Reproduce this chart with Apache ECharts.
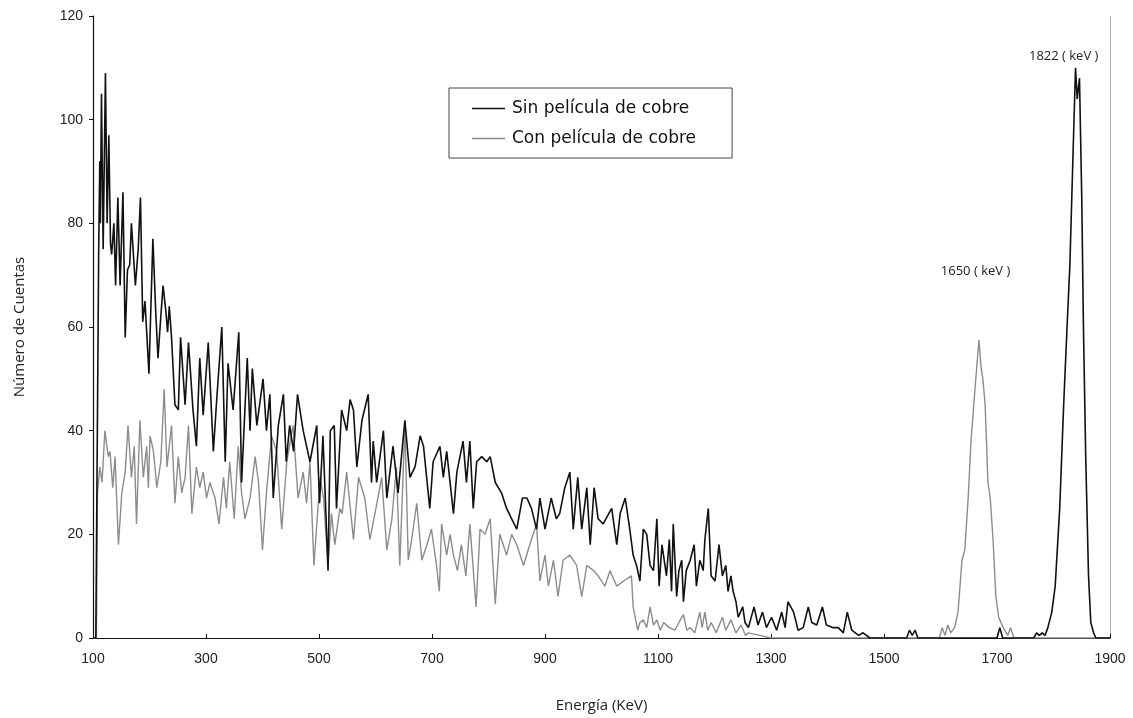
<!DOCTYPE html>
<html>
<head>
<meta charset="utf-8">
<script src="https://cdn.jsdelivr.net/npm/echarts@6/dist/echarts.min.js"></script>
<style>
html,body{margin:0;padding:0;background:#fff;}
#chart{width:1133px;height:718px;}
</style>
</head>
<body>
<div id="chart"></div>
<script>
// ---- Data ----
const seriesNames = ['Sin película de cobre', 'Con película de cobre'];

const sinEnergy = [100,105,108,110,112,113,115,118,122,125,128,131,133,137,140,144,148,153,157,161,165,168,175,180,184,188,192,199,206,211,215,220,224,229,232,235,239,245,251,255,263,269,277,283,289,295,304,313,319,328,334,339,348,358,363,373,378,382,390,401,407,413,419,428,437,442,448,455,462,472,484,496,501,507,516,520,527,531,540,549,555,561,567,576,587,593,596,602,614,620,631,640,652,661,670,679,685,696,702,714,720,726,738,744,755,761,767,773,779,788,797,803,812,823,832,841,850,860,868,876,885,891,900,911,920,926,935,944,950,958,965,974,980,987,994,1003,1018,1027,1033,1042,1050,1056,1062,1068,1074,1080,1086,1092,1098,1102,1107,1115,1120,1124,1127,1133,1137,1142,1145,1150,1157,1164,1168,1174,1180,1183,1189,1194,1201,1208,1214,1220,1224,1229,1233,1238,1242,1250,1254,1260,1270,1277,1285,1292,1301,1310,1319,1325,1330,1340,1348,1357,1366,1372,1381,1391,1398,1410,1419,1428,1435,1443,1455,1463,1475,1540,1545,1550,1555,1560,1700,1705,1710,1765,1770,1775,1780,1785,1790,1797,1803,1811,1818,1824,1829,1835,1839,1842,1846,1850,1853,1857,1862,1866,1871,1875,1900];
const sinCounts = [0,0,0,74,92,80,105,75,109,80,97,76,74,80,68,85,68,86,58,71,72,80,68,75,85,61,65,51,77,63,54,62,68,63,59,64,58,45,44,58,45,57,44,37,54,43,57,36,46,60,34,53,44,59,30,54,40,52,41,50,40,47,27,41,47,34,41,36,47,40,34,41,26,39,13,40,41,25,44,40,46,44,33,42,47,30,38,30,40,27,37,28,42,31,33,39,37,25,34,37,31,36,24,32,38,30,38,25,34,35,34,35,30,28,25,23,21,27,27,25,21,27,21,27,23,24,29,32,21,31,21,29,18,29,23,22,25,18,24,27,21,16,14,11,21,20,14,13,23,10,18,12,19,9,22,8,13,15,7,13,15,18,10,15,13,19,25,12,11,18,12,14,9,12,9,7,4,6,3,2,6,2.5,5,2,4,1.5,5,2,7,5,1.5,2,6,3,2.5,6,2.5,2,2,1,5,1.5,0.5,1,0,0,1.5,0.5,1.5,0,0,2,0,0,1,0.5,1,0.5,2,5,10,25,45,60,72,95,110,104,108,85,60,35,12,3,1,0,0];

const conEnergy = [100,106,108,112,116,121,127,130,135,139,145,151,157,162,168,173,177,183,189,195,198,201,207,213,220,226,231,239,245,251,257,263,269,275,283,289,295,301,307,316,323,331,336,342,350,357,363,369,378,387,393,400,407,416,425,434,443,454,463,472,478,484,491,502,508,516,522,528,537,541,549,561,570,581,590,599,611,620,629,637,643,652,658,664,673,682,691,699,708,713,717,726,732,738,745,752,760,767,778,785,794,803,812,820,832,841,850,862,873,885,891,900,906,915,923,932,944,956,965,974,986,994,1006,1015,1027,1039,1053,1056,1064,1068,1074,1080,1086,1092,1098,1104,1110,1120,1130,1137,1145,1151,1157,1165,1174,1178,1183,1188,1194,1203,1214,1220,1229,1238,1247,1255,1260,1280,1300,1598,1603,1608,1613,1618,1625,1631,1638,1643,1649,1654,1661,1668,1672,1675,1679,1684,1688,1693,1698,1703,1711,1719,1724,1730,1900];
const conCounts = [0,0,28,33,30,40,35,36,29,35,18,28,32,41,31,37,22,42,31,37,29,39,36,29,34,48,33,41,26,35,28,31,41,24,33,29,32,27,30,27,22,31,25,34,23,37,28,23,27,35,30,17,28,39,36,21,34,41,27,32,26,34,14,31,27,14,24,18,25,24,32,19,31,27,19,24,31,17,23,33,14,41,15,19,26,15,18,21,14,9,22,16,20,16,13,18,12,22,6,21,20,23,6.5,20,16,20,18,14,18,22,11,16,10,15,8,15,16,14,8,14,13,12,10,13,10,11,12,6,1.5,3,3.5,2,6,2.5,3.5,1.5,3,2,1.5,3,4.5,1.5,2,1,5,2,5,1.5,3,1,4,1.5,3.5,1,2.5,0.5,1,0.5,0,0,2,0.5,2.5,1,2,5,15,17,27,38,48,57.5,52,50,45,30,27,19,8,4,2,0.5,2,0,0];

const xTicks = [100, 300, 500, 700, 900, 1100, 1300, 1500, 1700, 1900];
const yTicks = [0, 20, 40, 60, 80, 100, 120];
const peakNotes = ['1822 ( keV )', '1650 ( keV )'];

// ---- Chart ----
const pair = (xs, ys) => xs.map((x, i) => [x, ys[i]]);
const tickFont = { fontFamily: '"Liberation Sans Narrow", "Liberation Sans", Arial, sans-serif', fontSize: 14, color: '#222' };

const chart = echarts.init(document.getElementById('chart'), null, { renderer: 'canvas' });
chart.setOption({
  animation: false,
  backgroundColor: '#fff',
  grid: { left: 93, right: 23, top: 16, bottom: 80, containLabel: false },
  legend: {
    orient: 'vertical',
    left: 449, top: 88,
    padding: [12, 36, 11, 23],
    itemGap: 13,
    itemWidth: 33, itemHeight: 1.5,
    icon: 'rect',
    borderColor: '#444', borderWidth: 1,
    backgroundColor: '#fff',
    textStyle: { fontFamily: '"DejaVu Sans", sans-serif', fontSize: 17, color: '#111', padding: [0, 0, 0, 2] },
    data: seriesNames
  },
  xAxis: {
    type: 'value',
    min: xTicks[0], max: xTicks[xTicks.length - 1], interval: xTicks[1] - xTicks[0],
    name: 'Energía (KeV)',
    nameLocation: 'middle', nameGap: 60,
    nameTextStyle: { fontFamily: '"Open Sans", sans-serif', fontSize: 15, color: '#222' },
    axisLine: { lineStyle: { color: '#111', width: 1.2 } },
    axisTick: { inside: true, length: 4, lineStyle: { color: '#111' } },
    axisLabel: Object.assign({ margin: 14, formatter: v => String(v) }, tickFont),
    splitLine: { show: false }
  },
  yAxis: [{
    type: 'value',
    min: yTicks[0], max: yTicks[yTicks.length - 1], interval: yTicks[1] - yTicks[0],
    name: 'Número de Cuentas',
    nameLocation: 'middle', nameGap: 66, nameRotate: 90,
    nameTextStyle: { fontFamily: '"Open Sans", sans-serif', fontSize: 15, color: '#222' },
    axisLine: { show: true, lineStyle: { color: '#111', width: 1.2 } },
    axisTick: { show: true, length: 4, lineStyle: { color: '#111' } },
    axisLabel: Object.assign({ margin: 10, formatter: v => String(v) }, tickFont),
    splitLine: { show: false }
  }, {
    type: 'value', position: 'right',
    min: yTicks[0], max: yTicks[yTicks.length - 1],
    axisLine: { show: true, lineStyle: { color: '#9a9a9a', type: 'dotted', width: 1 } },
    axisTick: { show: false }, axisLabel: { show: false }, splitLine: { show: false }
  }],
  series: [{
    name: seriesNames[0],
    type: 'line',
    data: pair(sinEnergy, sinCounts),
    showSymbol: false, symbol: 'none',
    lineStyle: { color: '#111', width: 1.6 },
    itemStyle: { color: '#111' },
    z: 3,
    markPoint: {
      symbol: 'circle', symbolSize: 0,
      label: { show: true, position: 'inside', formatter: p => p.name, fontFamily: '"Open Sans", sans-serif', fontSize: 13, color: '#222' },
      data: [{ name: peakNotes[0], coord: [1818, 112.3] }]
    }
  }, {
    name: seriesNames[1],
    type: 'line',
    data: pair(conEnergy, conCounts),
    showSymbol: false, symbol: 'none',
    lineStyle: { color: '#8c8c8c', width: 1.4 },
    itemStyle: { color: '#8c8c8c' },
    z: 2,
    markPoint: {
      symbol: 'circle', symbolSize: 0,
      label: { show: true, position: 'inside', formatter: p => p.name, fontFamily: '"Open Sans", sans-serif', fontSize: 13, color: '#222' },
      data: [{ name: peakNotes[1], coord: [1662, 70.7] }]
    }
  }]
});
</script>
</body>
</html>
